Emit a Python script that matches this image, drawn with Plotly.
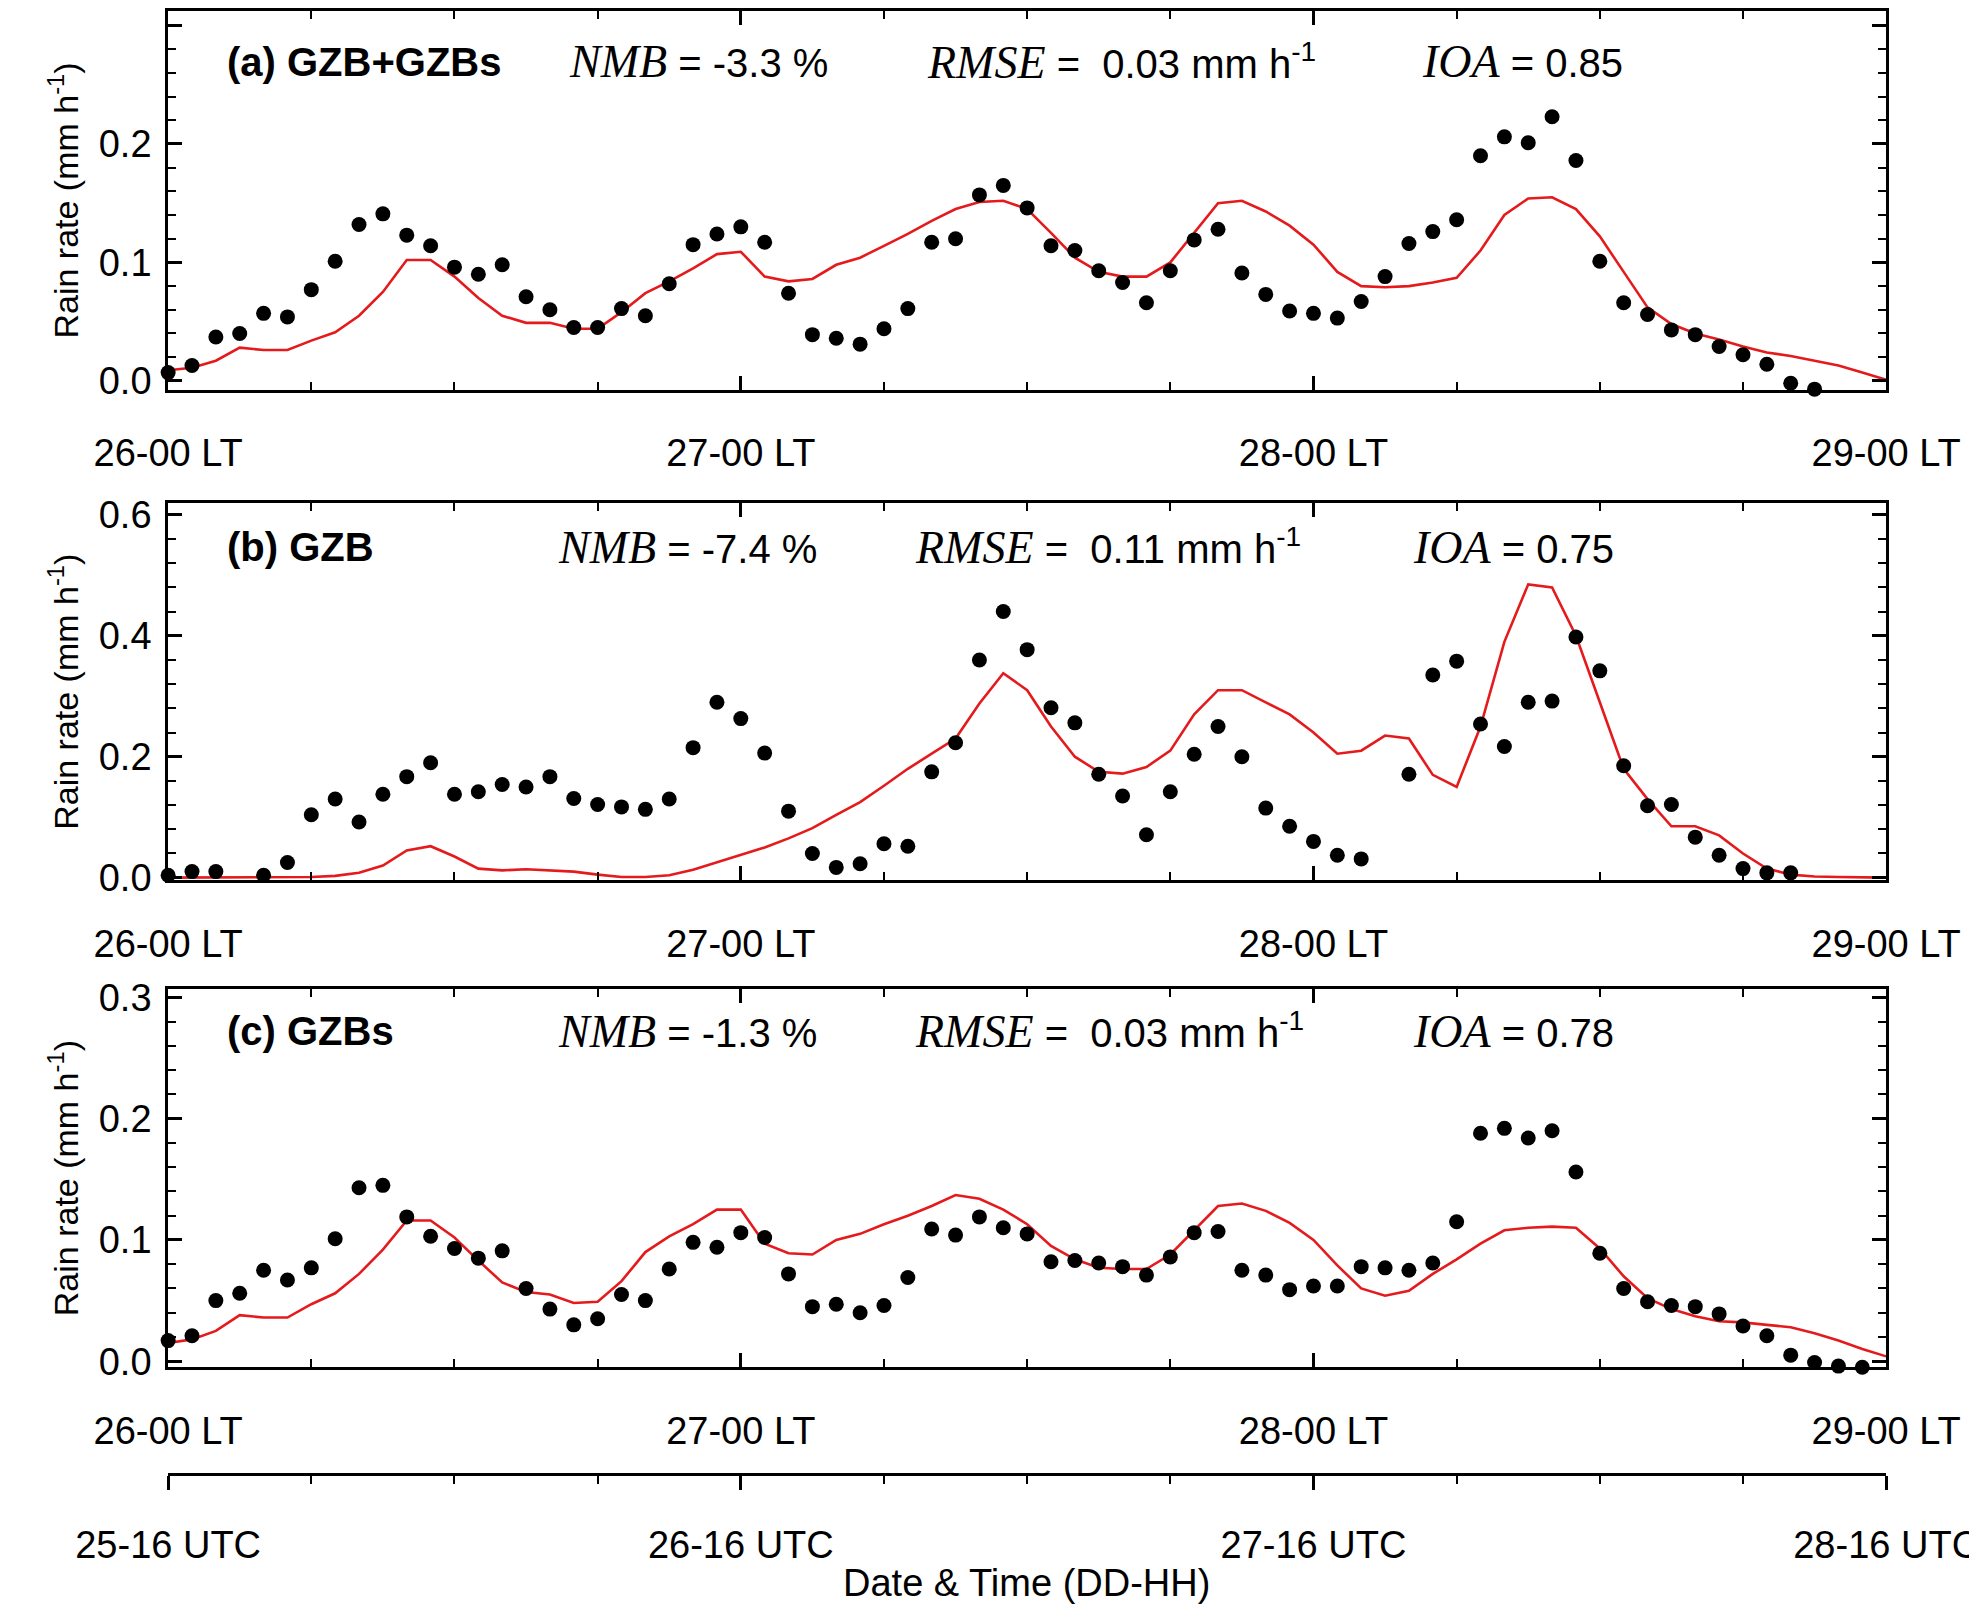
import plotly.graph_objects as go

# horas desde 26-00 LT
horas_obs = list(range(72))
horas_mod = list(range(73))

obs_a = [.007, .013, .037, .040, .057, .054, .077, .101, .132, .141, .123, .114, .096, .090, .098, .071,
         .060, .045, .045, .061, .055, .082, .115, .124, .130, .117, .074, .039, .036, .031, .044, .061,
         .117, .120, .157, .165, .146, .114, .110, .093, .083, .066, .093, .119, .128, .091, .073, .059,
         .057, .053, .067, .088, .116, .126, .136, .190, .206, .201, .223, .186, .101, .066, .056, .043,
         .039, .029, .022, .014, -.002, -.007, -.011, -.012]
mod_a = [.009, .011, .017, .028, .026, .026, .034, .041, .055, .075, .102, .102, .088, .070, .055, .049,
         .049, .044, .044, .058, .074, .084, .095, .107, .109, .088, .084, .086, .098, .104, .114, .124,
         .135, .145, .151, .152, .145, .125, .104, .092, .088, .088, .100, .125, .150, .152, .143, .131,
         .115, .092, .080, .079, .080, .083, .087, .110, .140, .154, .155, .145, .122, .092, .062, .048,
         .040, .035, .029, .024, .021, .017, .013, .007, .001]

obs_b = [.004, .010, .010, None, .004, .025, .104, .130, .092, .138, .167, .190, .138, .142, .154, .150,
         .167, .131, .121, .117, .113, .130, .215, .290, .263, .206, .110, .040, .017, .023, .056, .052,
         .175, .223, .360, .440, .377, .281, .256, .171, .135, .071, .142, .204, .250, .200, .115, .085,
         .060, .037, .031, None, .171, .335, .358, .254, .217, .290, .292, .398, .342, .185, .119, .121,
         .067, .037, .015, .008, .008, None, None, None]
mod_b = [0, 0, 0, 0, 0, 0, .001, .003, .008, .020, .045, .052, .035, .015, .012, .014,
         .012, .010, .005, .001, .001, .004, .013, .025, .037, .050, .065, .082, .104, .125, .152, .180,
         .205, .230, .288, .338, .310, .250, .200, .175, .172, .183, .210, .270, .310, .310, .290, .270,
         .240, .205, .210, .235, .230, .170, .150, .250, .390, .485, .480, .400, .290, .180, .130, .085,
         .085, .070, .040, .015, .005, .002, .001, 0, 0]

obs_c = [.017, .021, .050, .056, .075, .067, .077, .101, .143, .145, .119, .103, .093, .085, .091, .060,
         .043, .030, .035, .055, .050, .076, .098, .094, .106, .102, .072, .045, .047, .040, .046, .069,
         .109, .104, .119, .110, .105, .082, .083, .081, .078, .071, .086, .106, .107, .075, .071, .059,
         .062, .062, .078, .077, .075, .081, .115, .188, .192, .184, .190, .156, .089, .060, .049, .046,
         .045, .039, .029, .021, .005, -.001, -.004, -.005]
mod_c = [.015, .018, .025, .038, .036, .036, .047, .056, .072, .092, .116, .116, .102, .083, .065, .057,
         .055, .048, .049, .066, .090, .103, .113, .125, .125, .097, .089, .088, .100, .105, .113, .120,
         .128, .137, .134, .125, .113, .095, .084, .077, .076, .076, .088, .108, .128, .130, .124, .114,
         .100, .079, .060, .054, .058, .072, .084, .097, .108, .110, .111, .110, .093, .070, .052, .043,
         .037, .033, .032, .030, .028, .023, .017, .010, .004]

etiquetas_lt = ["26-00 LT", "27-00 LT", "28-00 LT", "29-00 LT"]
etiquetas_utc = ["25-16 UTC", "26-16 UTC", "27-16 UTC", "28-16 UTC"]
titulos = ["(a) GZB+GZBs", "(b) GZB", "(c) GZBs"]
nmb = ["-3.3", "-7.4", "-1.3"]
rmse = ["0.03", "0.11", "0.03"]
ioa = ["0.85", "0.75", "0.78"]

paneles = [(obs_a, mod_a), (obs_b, mod_b), (obs_c, mod_c)]
dominios_y = [(0.765, 0.998), (0.463, 0.695), (0.163, 0.396)]
rangos_y = [(-0.0074, 0.312), (-0.004, 0.619), (-0.005, 0.307)]
ticks_y = [(0.1, 0.02, ".1f"), (0.2, 0.04, ".1f"), (0.1, 0.02, ".1f")]
pos_texto = [(0.967, 0.2825, 0.4637, 0.7143), (0.668, 0.2774, 0.4579, 0.7098),
             (0.370, 0.2774, 0.4579, 0.7098)]

FUENTE = "Liberation Sans"
TIMES = "Liberation Serif"
dominio_x = [0.081, 0.950]

fig = go.Figure()
for i, (obs, mod) in enumerate(paneles):
    n = "" if i == 0 else str(i + 1)
    fig.add_trace(go.Scatter(x=horas_mod, y=mod, mode="lines", line=dict(color="#e41a1c", width=2.6),
                             xaxis="x" + n, yaxis="y" + n, showlegend=False))
    fig.add_trace(go.Scatter(x=horas_obs, y=obs, mode="markers", marker=dict(color="black", size=15),
                             xaxis="x" + n, yaxis="y" + n, showlegend=False, cliponaxis=False))
    dtick, minor, fmt = ticks_y[i]
    eje = dict(linecolor="black", linewidth=3, mirror="ticks", showgrid=False, zeroline=False,
               ticks="inside", ticklen=14, tickwidth=3, tickcolor="black", automargin=False,
               tickfont=dict(family=FUENTE, size=38, color="black"))
    fig.layout["xaxis" + n] = dict(eje, domain=dominio_x, anchor="y" + n, range=[0, 72],
                                   tickvals=[0, 24, 48, 72], ticktext=etiquetas_lt, ticklabelstandoff=28,
                                   minor=dict(dtick=6, ticks="inside", ticklen=8, tickwidth=2,
                                              tickcolor="black"))
    fig.layout["yaxis" + n] = dict(eje, domain=dominios_y[i], anchor="x" + n, range=list(rangos_y[i]),
                                   dtick=dtick, tickformat=fmt, ticklabelstandoff=6,
                                   minor=dict(dtick=minor, ticks="inside", ticklen=8, tickwidth=2,
                                              tickcolor="black"),
                                   title=dict(text="Rain rate (mm h<sup>-1</sup>)", standoff=10,
                                              font=dict(family=FUENTE, size=34, color="black")))
    yt, xn, xr, xi = pos_texto[i]
    fig.add_annotation(x=0.110, y=yt, xref="paper", yref="paper", xanchor="left", yanchor="middle",
                       showarrow=False, text="<b>" + titulos[i] + "</b>",
                       font=dict(family=FUENTE, size=40, color="black"))
    textos = [
        (xn, f"<span style='font-family:{TIMES};font-size:46px'><i>NMB</i></span> = {nmb[i]} %"),
        (xr, f"<span style='font-family:{TIMES};font-size:46px'><i>RMSE</i></span> =  {rmse[i]} mm h<sup>-1</sup>"),
        (xi, f"<span style='font-family:{TIMES};font-size:46px'><i>IOA</i></span> = {ioa[i]}"),
    ]
    for xp, t in textos:
        fig.add_annotation(x=xp, y=yt, xref="paper", yref="paper", xanchor="left", yanchor="middle",
                           showarrow=False, text=t, font=dict(family=FUENTE, size=40, color="black"))

# eje adicional en UTC
fig.add_trace(go.Scatter(x=[0, 72], y=[0, 0], mode="markers", marker=dict(opacity=0),
                         xaxis="x4", yaxis="y3", showlegend=False, hoverinfo="skip"))
fig.layout["xaxis4"] = dict(domain=dominio_x, anchor="free", overlaying="x3", position=0.097,
                            range=[0, 72], side="bottom", showline=True, linecolor="black", linewidth=3,
                            showgrid=False, zeroline=False, ticks="outside", ticklen=14, tickwidth=3,
                            tickcolor="black", tickvals=[0, 24, 48, 72], ticktext=etiquetas_utc,
                            ticklabelstandoff=22, automargin=False,
                            tickfont=dict(family=FUENTE, size=38, color="black"),
                            minor=dict(dtick=6, ticks="outside", ticklen=8, tickwidth=2, tickcolor="black"))

fig.add_annotation(x=0.515, y=0.016, xref="paper", yref="paper", showarrow=False,
                   text="Date & Time (DD-HH)", font=dict(family=FUENTE, size=38, color="black"))

fig.update_layout(width=1977, height=1624, margin=dict(l=0, r=0, t=0, b=0),
                  paper_bgcolor="white", plot_bgcolor="white")

fig.write_html("out.html")
